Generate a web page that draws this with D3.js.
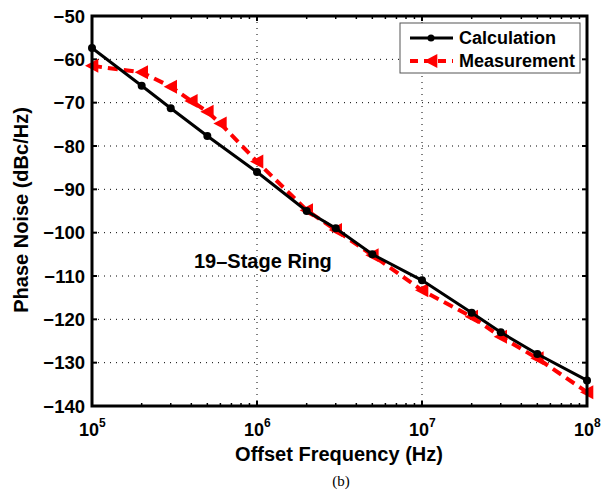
<!DOCTYPE html>
<html><head><meta charset="utf-8">
<script src="https://cdn.jsdelivr.net/npm/d3@7"></script>
<style>body{margin:0;background:#fff}svg{display:block}</style>
</head><body>
<svg id="c" width="601" height="491"></svg>
<script>
const calcFreq = [1e5,2e5,3e5,5e5,1e6,2e6,3e6,5e6,1e7,2e7,3e7,5e7,1e8];
const calcVal  = [-57.4,-66.1,-71.3,-77.7,-86.0,-95.0,-99.0,-105.0,-111.0,-118.5,-123.0,-128.0,-134.1];
const measFreq = [1e5,2e5,3e5,4e5,5e5,6e5,1e6,2e6,3e6,5e6,1e7,2e7,3e7,5e7,1e8];
const measVal  = [-61.5,-63.0,-66.3,-69.6,-72.1,-74.8,-83.6,-94.8,-99.4,-105.2,-113.3,-119.4,-124.0,-129.0,-136.8];
const yTicks = [-50,-60,-70,-80,-90,-100,-110,-120,-130,-140];
const xTicks = [1e5,1e6,1e7,1e8];
const xTickExp = ["5","6","7","8"];
const seriesNames = ["Calculation","Measurement"];

const L=92,R=587,T=16,B=406;
const svg=d3.select("#c");
const x=d3.scaleLog().domain([1e5,1e8]).range([L,R]);
const y=d3.scaleLinear().domain([-140,-50]).range([B,T]);
const font="'Liberation Sans', Arial, Helvetica, sans-serif";

// grid
const g=svg.append("g");
yTicks.slice(1,-1).forEach(v=>{
  g.append("line").attr("x1",L).attr("x2",R).attr("y1",y(v)).attr("y2",y(v))
   .attr("stroke","#000").attr("stroke-width",1).attr("stroke-dasharray","1,5");
});
xTicks.slice(1,-1).forEach(v=>{
  g.append("line").attr("y1",T).attr("y2",B).attr("x1",x(v)).attr("x2",x(v))
   .attr("stroke","#000").attr("stroke-width",1).attr("stroke-dasharray","1,5");
});

// minor ticks on x
const minor=[];
for(let e=5;e<8;e++){for(let m=2;m<10;m++)minor.push(m*Math.pow(10,e));}
minor.forEach(v=>{
  svg.append("line").attr("x1",x(v)).attr("x2",x(v)).attr("y1",B).attr("y2",B-3).attr("stroke","#000").attr("stroke-width",1.5);
  svg.append("line").attr("x1",x(v)).attr("x2",x(v)).attr("y1",T).attr("y2",T+3).attr("stroke","#000").attr("stroke-width",1.5);
});
xTicks.forEach(v=>{
  svg.append("line").attr("x1",x(v)).attr("x2",x(v)).attr("y1",B).attr("y2",B-5).attr("stroke","#000").attr("stroke-width",2);
  svg.append("line").attr("x1",x(v)).attr("x2",x(v)).attr("y1",T).attr("y2",T+5).attr("stroke","#000").attr("stroke-width",2);
});
yTicks.forEach(v=>{
  svg.append("line").attr("x1",L).attr("x2",L+5).attr("y1",y(v)).attr("y2",y(v)).attr("stroke","#000").attr("stroke-width",2);
  svg.append("line").attr("x1",R).attr("x2",R-5).attr("y1",y(v)).attr("y2",y(v)).attr("stroke","#000").attr("stroke-width",2);
});

// measurement line
const lineM=d3.line().x((d,i)=>x(measFreq[i])).y(d=>y(d));
svg.append("path").attr("d",lineM(measVal)).attr("fill","none").attr("stroke","#ff0000")
  .attr("stroke-width",4).attr("stroke-dasharray","10,6");
const tri=(cx,cy,s)=>`M${cx-s},${cy}L${cx+s*0.9},${cy-s}L${cx+s*0.9},${cy+s}Z`;
measVal.forEach((v,i)=>{
  svg.append("path").attr("d",tri(x(measFreq[i]),y(v),7)).attr("fill","#ff0000");
});

// calculation line
const lineC=d3.line().x((d,i)=>x(calcFreq[i])).y(d=>y(d));
svg.append("path").attr("d",lineC(calcVal)).attr("fill","none").attr("stroke","#000").attr("stroke-width",3);
calcVal.forEach((v,i)=>{
  svg.append("circle").attr("cx",x(calcFreq[i])).attr("cy",y(v)).attr("r",4).attr("fill","#000");
});

// frame
svg.append("rect").attr("x",L).attr("y",T).attr("width",R-L).attr("height",B-T)
  .attr("fill","none").attr("stroke","#000").attr("stroke-width",3);

// y tick labels
yTicks.forEach(v=>{
  svg.append("text").attr("x",L-7).attr("y",y(v)).attr("dy","0.36em").attr("text-anchor","end")
    .attr("font-family",font).attr("font-weight","bold").attr("font-size",18.5)
    .text(String(v).replace("-","\u2212"));
});
// x tick labels
xTicks.forEach((v,i)=>{
  const t=svg.append("text").attr("x",x(v)-13).attr("y",B+30).attr("text-anchor","start")
    .attr("font-family",font).attr("font-weight","bold").attr("font-size",18);
  t.append("tspan").text("10");
  t.append("tspan").attr("dy",-9).attr("font-size",12).text(xTickExp[i]);
});

// axis titles
svg.append("text").attr("x",339).attr("y",461).attr("text-anchor","middle")
  .attr("font-family",font).attr("font-weight","bold").attr("font-size",20).text("Offset Frequency (Hz)");
svg.append("text").attr("transform","translate(28,210) rotate(-90)").attr("text-anchor","middle")
  .attr("font-family",font).attr("font-weight","bold").attr("font-size",20).text("Phase Noise (dBc/Hz)");
svg.append("text").attr("x",341).attr("y",486).attr("text-anchor","middle")
  .attr("font-family","'Liberation Serif', 'Times New Roman', serif").attr("font-size",15).text("(b)");

// annotation
svg.append("text").attr("x",194).attr("y",268).attr("font-family",font).attr("font-weight","bold")
  .attr("font-size",20).text("19\u2013Stage Ring");

// legend
const lg=svg.append("g");
lg.append("rect").attr("x",400).attr("y",23).attr("width",180).attr("height",50)
  .attr("fill","#fff").attr("stroke","#555").attr("stroke-width",1);
lg.append("line").attr("x1",410).attr("x2",453).attr("y1",38).attr("y2",38).attr("stroke","#000").attr("stroke-width",3);
lg.append("circle").attr("cx",431).attr("cy",38).attr("r",3.5).attr("fill","#000");
lg.append("line").attr("x1",410).attr("x2",453).attr("y1",61).attr("y2",61).attr("stroke","#ff0000").attr("stroke-width",4).attr("stroke-dasharray","8,6");
lg.append("path").attr("d",tri(431,61,7)).attr("fill","#ff0000");
lg.append("text").attr("x",459).attr("y",44).attr("font-family",font).attr("font-weight","bold").attr("font-size",18).text(seriesNames[0]);
lg.append("text").attr("x",459).attr("y",67).attr("font-family",font).attr("font-weight","bold").attr("font-size",18).text(seriesNames[1]);
</script>
</body></html>
